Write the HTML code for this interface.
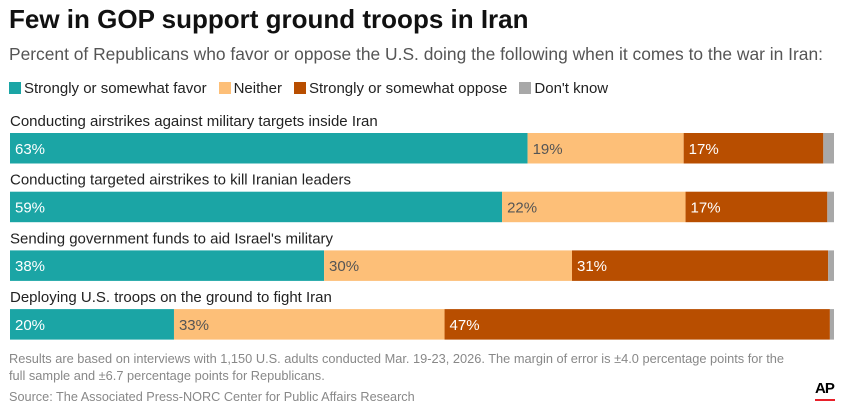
<!DOCTYPE html>
<html><head><meta charset="utf-8"><style>
body{margin:0;width:841px;height:412px;background:#fff;font-family:"Liberation Sans",sans-serif;overflow:hidden;position:relative}
.t{position:absolute;white-space:nowrap}
</style></head><body>
<div class="t" style="left:9px;top:4px;font-size:26px;font-weight:bold;color:#111">Few in GOP support ground troops in Iran</div>
<div class="t" style="left:9px;top:44px;font-size:17.4px;color:#555">Percent of Republicans who favor or oppose the U.S. doing the following when it comes to the war in Iran:</div>
<div id="legend" style="position:absolute;left:9px;top:79px;height:18px;font-size:15px;color:#222;display:flex;gap:12px;white-space:nowrap"></div>
<svg id="chart" width="841" height="345" style="position:absolute;left:0;top:0"></svg>
<div class="t" style="left:9px;top:350px;font-size:12.8px;color:#888;line-height:17px">Results are based on interviews with 1,150 U.S. adults conducted Mar. 19-23, 2026. The margin of error is ±4.0 percentage points for the<br>full sample and ±6.7 percentage points for Republicans.</div>
<div class="t" style="left:9px;top:390px;font-size:12.7px;color:#888">Source: The Associated Press-NORC Center for Public Affairs Research</div>
<div class="t" style="left:815px;top:380px;font-size:15px;font-weight:bold;color:#000;letter-spacing:-1px">AP</div>
<div style="position:absolute;left:815px;top:399px;width:20px;height:2px;background:#e8202a"></div>
<script>
const categories=["Conducting airstrikes against military targets inside Iran","Conducting targeted airstrikes to kill Iranian leaders","Sending government funds to aid Israel's military","Deploying U.S. troops on the ground to fight Iran"];
const seriesNames=["Strongly or somewhat favor","Neither","Strongly or somewhat oppose","Don't know"];
const favor=[63,59,38,20];
const neither=[19,22,30,33];
const oppose=[17,17,31,47];
const dontKnow=[1.3,0.8,0.7,0.5];
const colors=["#1ba5a5","#fdbf78","#b84e00","#a8a8a8"];
const textColors=["#fff","#555","#fff",""];
const series=[favor,neither,oppose,dontKnow];
const NS="http://www.w3.org/2000/svg";
const svg=document.getElementById('chart');
const x0=10,W=824,rowTop=111,rowStep=58.7,barOff=22,barH=30.5;
const leg=document.getElementById('legend');
seriesNames.forEach((n,i)=>{
  const s=document.createElement('span');
  
  
  s.style.display='flex';s.style.alignItems='center';
  s.innerHTML='<span style="display:inline-block;width:12px;height:12px;background:'+colors[i]+';margin-right:3px"></span>'+n;
  leg.appendChild(s);
});
categories.forEach((c,r)=>{
  const y=rowTop+r*rowStep;
  const lab=document.createElementNS(NS,'text');
  
  
  lab.setAttribute('x',10);lab.setAttribute('y',y+15);
  lab.setAttribute('font-size','15');lab.setAttribute('fill','#222');
  lab.textContent=c;svg.appendChild(lab);
  const tot=series.reduce((a,s)=>a+s[r],0);
  let x=x0;
  series.forEach((s,i)=>{
    const w=s[r]/tot*W;
    const rect=document.createElementNS(NS,'rect');
    
    
    rect.setAttribute('x',x);rect.setAttribute('y',y+barOff);
    rect.setAttribute('width',w);rect.setAttribute('height',barH);
    rect.setAttribute('fill',colors[i]);svg.appendChild(rect);
    if(i<3){
      const t=document.createElementNS(NS,'text');
      
      
      t.setAttribute('x',x+5);t.setAttribute('y',y+barOff+barH/2+5.5);
      t.setAttribute('font-size','15');t.setAttribute('fill',textColors[i]);
      t.textContent=s[r]+'%';svg.appendChild(t);
    }
    x+=w;
  });
});
</script>
</body></html>
